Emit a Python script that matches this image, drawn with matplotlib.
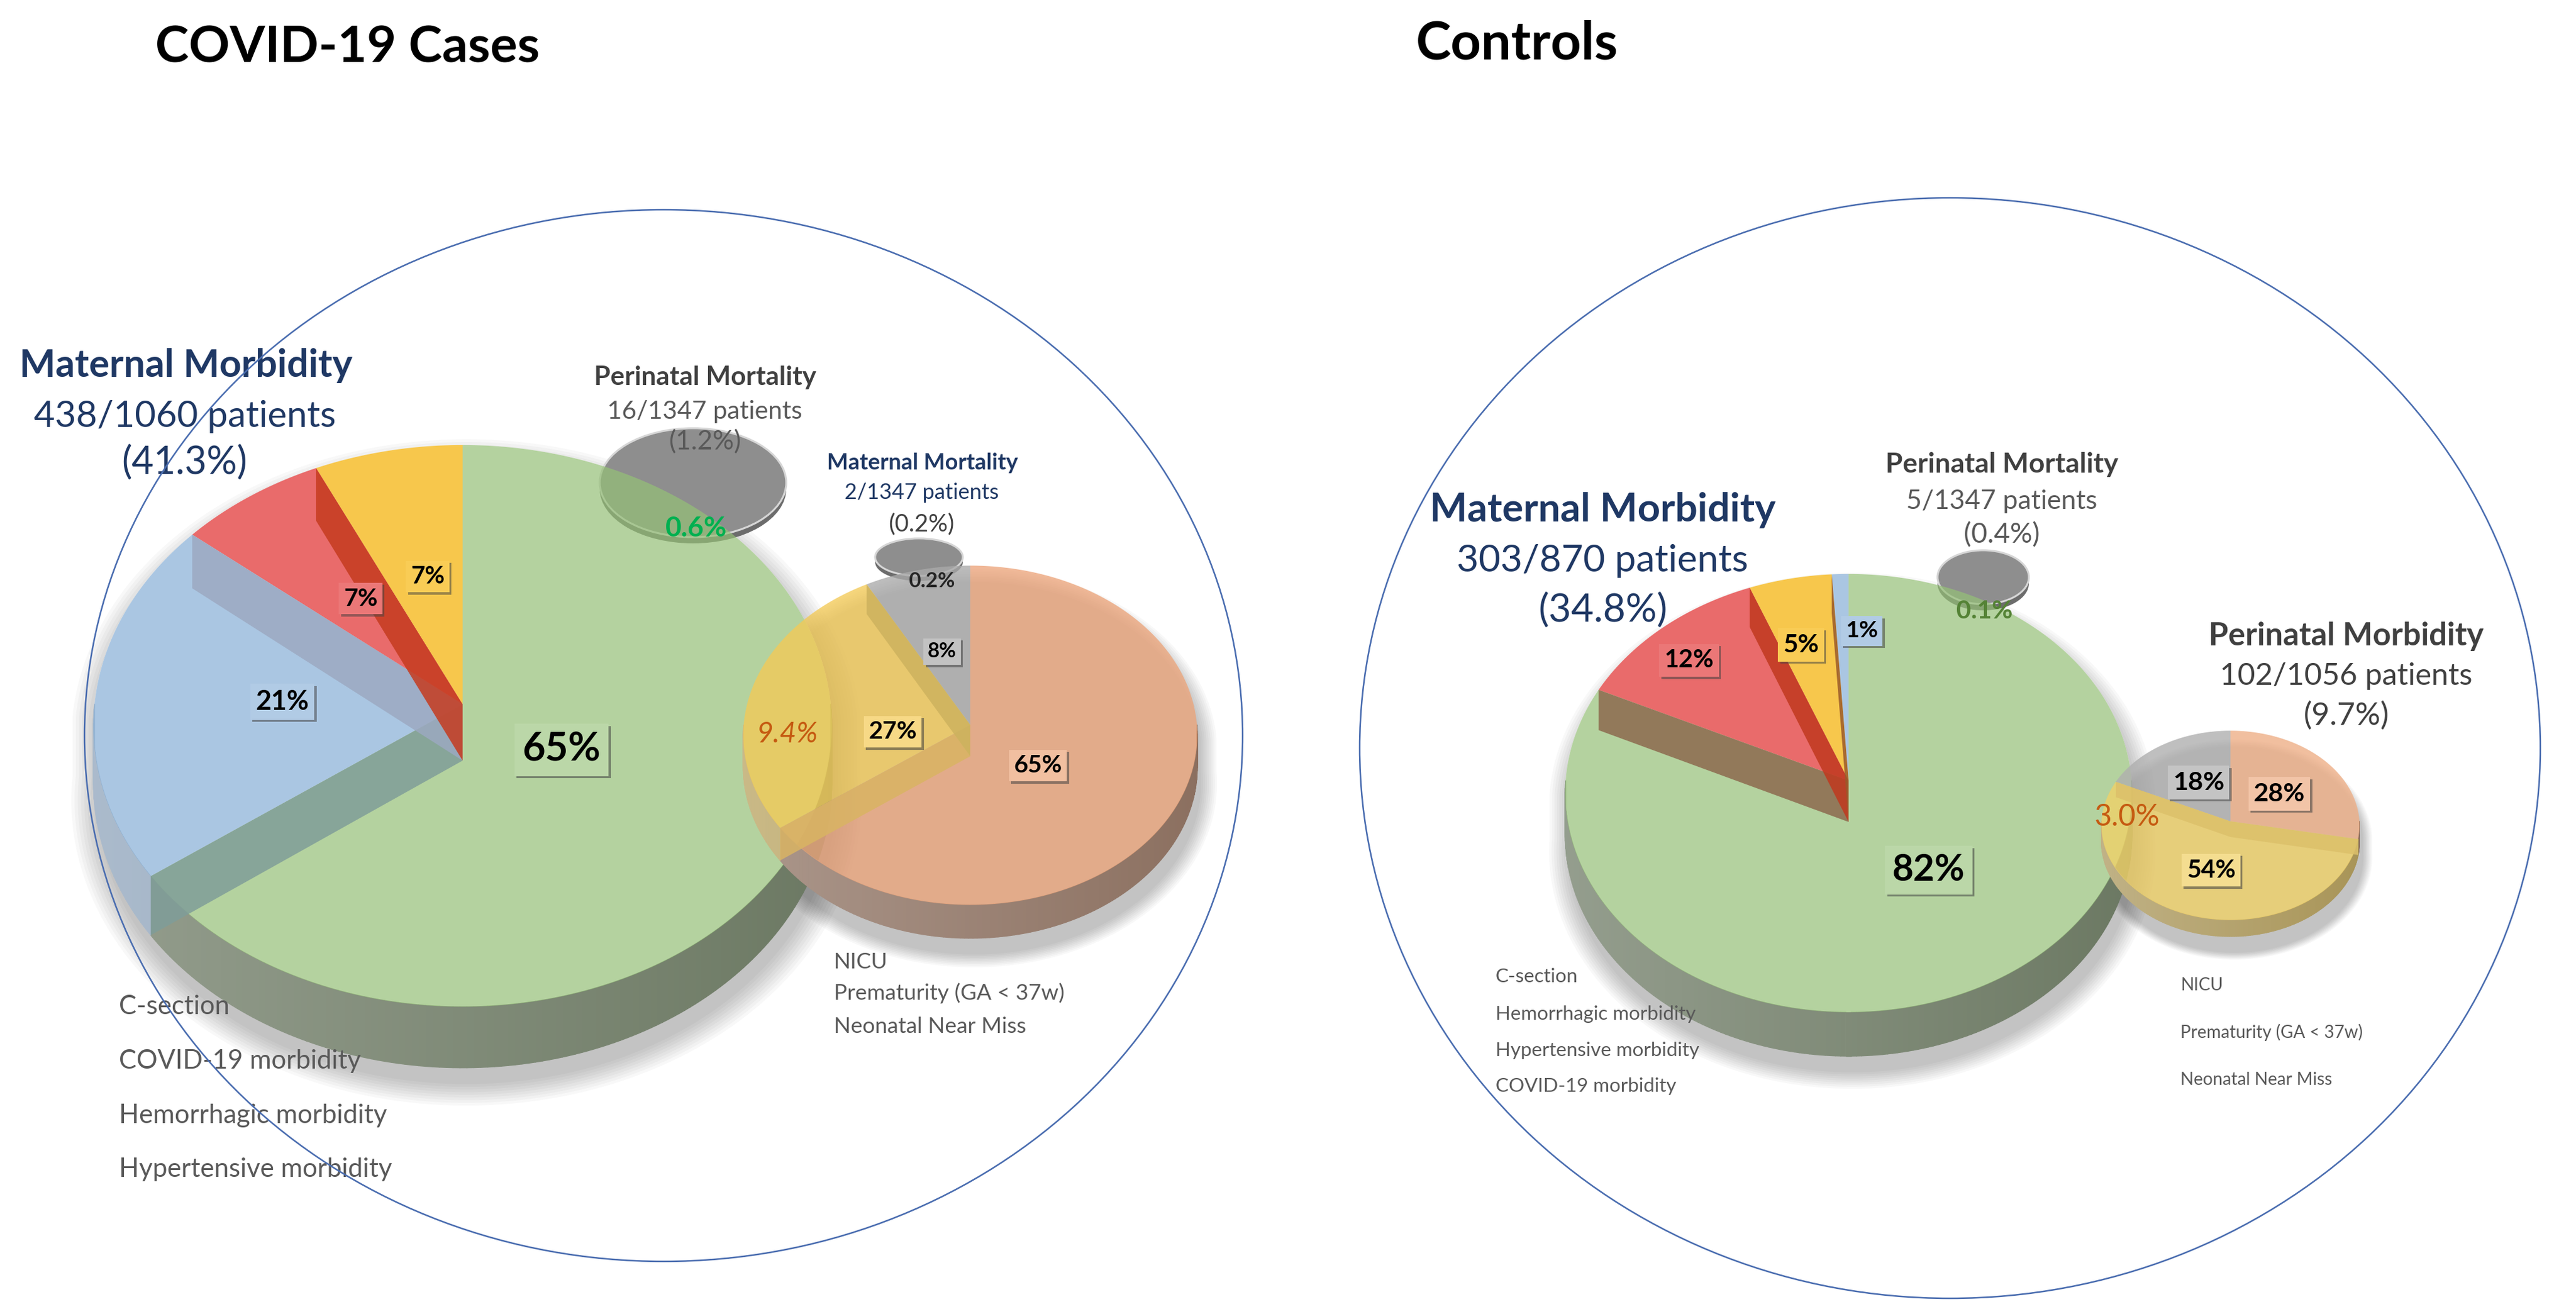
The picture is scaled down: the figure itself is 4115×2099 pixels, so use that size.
import numpy as np
import matplotlib
matplotlib.use("Agg")
import matplotlib.pyplot as plt
from matplotlib.patches import Polygon, Ellipse
from matplotlib.collections import PolyCollection
from matplotlib import patheffects as pe
from matplotlib.colors import to_rgb

plt.rcParams['font.family'] = ['Lato', 'DejaVu Sans']

# ---- data ----
case_mat_labels = ['C-section', 'COVID-19 morbidity', 'Hemorrhagic morbidity', 'Hypertensive morbidity']
case_mat_pct = [65, 21, 7, 7]
case_peri_labels = ['NICU', 'Prematurity (GA < 37w)', 'Neonatal Near Miss']
case_peri_pct = [65, 27, 8]

ctrl_mat_labels = ['C-section', 'Hemorrhagic morbidity', 'Hypertensive morbidity', 'COVID-19 morbidity']
ctrl_mat_pct = [82, 12, 5, 1]
ctrl_peri_labels = ['NICU', 'Prematurity (GA < 37w)', 'Neonatal Near Miss']
ctrl_peri_pct = [28, 54, 18]

case_mat_morb = (438, 1060, 41.3)
case_peri_mort = (16, 1347, 1.2)
case_mat_mort = (2, 1347, 0.2)
case_peri_mort_shown = 0.6
case_mat_mort_shown = 0.2
case_peri_morb_shown = 9.4

ctrl_mat_morb = (303, 870, 34.8)
ctrl_peri_mort = (5, 1347, 0.4)
ctrl_peri_morb = (102, 1056, 9.7)
ctrl_peri_mort_shown = 0.1
ctrl_peri_morb_shown = 3.0

W, H = 4115, 2099
fig = plt.figure(figsize=(W / 100, H / 100), dpi=100)
ax = fig.add_axes([0, 0, 1, 1])
ax.set_xlim(0, W)
ax.set_ylim(H, 0)
ax.axis('off')
R = fig.canvas.get_renderer()

NAVY = '#1F3864'
DGRAY = '#404040'
MGRAY = '#595959'


def under(hexc, alpha):
    c = np.array(to_rgb(hexc))
    return tuple(np.clip((c - (1 - alpha)) / alpha, 0, 1))


def proj(g, th, r=1.0, down=0.0):
    t = np.radians(th)
    u, v = r * np.cos(t), r * np.sin(t)
    s = 1.0 / (1.0 + g['k'] * v)
    return g['cx'] + g['a'] * u * s, g['cy'] - g['b'] * v * s + down * s


def arc(g, t0, t1, down=0.0):
    th = np.linspace(t0, t1, int(abs(t1 - t0)) + 2)
    x, y = proj(g, th, 1.0, down)
    return np.column_stack([x, y])


def angles(pct):
    cum = np.cumsum([0] + list(pct)) / 100.0
    return 90 - 360 * cum


def silhouette(g):
    back = arc(g, 0, 180)
    front = arc(g, 180, 360, g['d'])
    return np.vstack([back, front])


def shadow(g, dx=6, dy=26):
    sil = silhouette(g)
    c = np.array([g['cx'], g['cy'] + g['d']])
    for sc in np.linspace(1.07, 1.0, 9):
        pts = (sil - c) * sc + c + [dx, dy]
        ax.add_patch(Polygon(pts, closed=True, fc='#000000', ec='none', alpha=0.028, zorder=1))


def white_base(g):
    ax.add_patch(Polygon(silhouette(g), closed=True, fc='white', ec='none', zorder=2))


def draw_pie(g, pct, tops, sides, bands, alpha, z):
    th = angles(pct)
    # outer side, front half only, light on the left and dark on the right
    for i in range(len(pct)):
        lo, hi = max(th[i + 1], -180), min(th[i], 0)
        if hi <= lo or sides[i] is None:
            continue
        a = np.linspace(hi, lo, int(hi - lo) + 2)
        dark = np.array(to_rgb(sides[i]))
        light = dark + (1 - dark) * 0.28
        polys, cols = [], []
        for j in range(len(a) - 1):
            x0, y0 = proj(g, a[j])
            x1, y1 = proj(g, a[j + 1])
            x2, y2 = proj(g, a[j + 1], 1.0, g['d'])
            x3, y3 = proj(g, a[j], 1.0, g['d'])
            polys.append([(x0, y0), (x1, y1), (x2, y2), (x3, y3)])
            f = (np.cos(np.radians(0.5 * (a[j] + a[j + 1]))) + 1) / 2
            cols.append(tuple(light * (1 - f) + dark * f))
        ax.add_collection(PolyCollection(polys, facecolors=cols, edgecolors=cols,
                                         linewidths=1.0, zorder=z))
    # top faces, partly see-through
    for i in range(len(pct)):
        pts = np.vstack([[g['cx'], g['cy']], arc(g, th[i], th[i + 1])])
        ax.add_patch(Polygon(pts, closed=True, fc=under(tops[i], alpha), ec='none',
                             alpha=alpha, zorder=z + 1))
    # inner walls showing through the top
    for j, col in bands:
        x, y = proj(g, th[j])
        xb, yb = proj(g, th[j], 1.0, g['d'])
        pts = [(g['cx'], g['cy']), (x, y), (xb, yb), (g['cx'], g['cy'] + g['d'])]
        ax.add_patch(Polygon(pts, closed=True, fc=col, ec='none', alpha=0.85, zorder=z + 2))


def disk(cx, cy, a, b, depth):
    ax.add_patch(Ellipse((cx, cy + depth), 2 * a, 2 * b, fc='#6C6C6C', ec='none', zorder=3))
    ax.add_patch(Ellipse((cx, cy), 2 * a, 2 * b, fc='#8E8E8E', ec='#D6D6D6', lw=2.2, zorder=3))


def fit_text(x, y, s, width, ha='center', z=20, **kw):
    t = ax.text(x, y, s, ha=ha, va='center', fontsize=30, zorder=z, **kw)
    w = t.get_window_extent(renderer=R).width
    t.set_fontsize(30 * width / w)
    return t


def tag(x, y, s, width, face=None, color='black', weight='bold', style='normal'):
    t = fit_text(x, y, s, width, color=color, weight=weight, style=style, z=22)
    if face is not None:
        fc = tuple(np.array(to_rgb(face)) * 0.92 + 0.08)
        t.set_bbox(dict(boxstyle='square,pad=0.2', fc=fc, ec='none'))
        t.get_bbox_patch().set_path_effects(
            [pe.withSimplePatchShadow(offset=(2.5, -2.5), shadow_rgbFace='#444444', alpha=0.55)])
    return t


def legend(x, ys, labels, ref, width, color=MGRAY):
    t0 = fit_text(x, ys[0], ref, width, ha='left', color=color)
    fs = t0.get_fontsize()
    t0.remove()
    for y, s in zip(ys, labels):
        ax.text(x, y, s, ha='left', va='center', fontsize=fs, color=color, zorder=20)


# ---- geometry (pixels) ----
g_case = dict(cx=739, cy=1125, a=588, b=446, k=0.077, d=90)
g_case_p = dict(cx=1550, cy=1158, a=362, b=270, k=0.061, d=50)
g_ctrl = dict(cx=2953, cy=1247, a=452, b=349, k=0.057, d=66)
g_ctrl_p = dict(cx=3563, cy=1312, a=206, b=151, k=0.043, d=25)

GREEN, BLUE, RED, YEL = '#B5D3A0', '#AAC7E3', '#E96B6B', '#F8C846'
ORANGE, PYEL, GRAY = '#F0B998', '#F6D67C', '#BDBDBD'

for g in (g_case, g_case_p, g_ctrl, g_ctrl_p):
    shadow(g)
white_base(g_case)
white_base(g_ctrl)

# mortality discs sitting behind the pies
disk(1107, 771, 149, 87, 10)
disk(1468, 890, 70, 30, 8)
disk(3168, 922, 73, 43, 10)

# ---- COVID-19 cases ----
draw_pie(g_case, case_mat_pct, [GREEN, BLUE, RED, YEL],
         ['#6B7862', '#8AA0B8', None, None],
         [(1, '#7F9D99'), (2, '#9CA9C1'), (3, '#C53B1F')], 0.7, 4)
draw_pie(g_case_p, case_peri_pct, [ORANGE, PYEL, GRAY],
         ['#8B6F5F', '#B59E58', None],
         [(1, '#D9B463'), (2, '#CDB25E')], 0.78, 8)

# ---- controls ----
draw_pie(g_ctrl, ctrl_mat_pct, [GREEN, RED, YEL, BLUE],
         ['#6B7862', None, None, None],
         [(1, '#8C6A4E'), (2, '#C0391F'), (3, '#9A5A2A')], 0.7, 4)
draw_pie(g_ctrl_p, ctrl_peri_pct, ['#F1BF9F', '#F3DA86', '#BFBFBF'],
         ['#8B6F5F', '#A89457', None],
         [(1, '#DCC06A'), (2, '#DCC06A')], 0.8, 8)

# ---- slice labels ----
tag(897, 1198, f'{case_mat_pct[0]}%', 125, GREEN)
tag(451, 1121, f'{case_mat_pct[1]}%', 85, BLUE)
tag(576, 956, f'{case_mat_pct[2]}%', 54, RED)
tag(683, 921, f'{case_mat_pct[3]}%', 54, YEL)
tag(1658, 1223, f'{case_peri_pct[0]}%', 77, ORANGE)
tag(1426, 1169, f'{case_peri_pct[1]}%', 77, PYEL)
tag(1505, 1041, f'{case_peri_pct[2]}%', 46, GRAY)
tag(1488, 928, f'{case_mat_mort_shown}%', 74, color='#262626')
tag(1258, 1173, f'{case_peri_morb_shown}%', 98, color='#C55A11', weight='normal', style='italic')
tag(1112, 844, f'{case_peri_mort_shown}%', 98, color='#00B050')

tag(3081, 1390, f'{ctrl_mat_pct[0]}%', 116, GREEN)
tag(2698, 1055, f'{ctrl_mat_pct[1]}%', 79, RED)
tag(2877, 1030, f'{ctrl_mat_pct[2]}%', 57, YEL)
tag(2974, 1008, f'{ctrl_mat_pct[3]}%', 52, BLUE)
tag(3641, 1268, f'{ctrl_peri_pct[0]}%', 82, '#F1BF9F')
tag(3532, 1390, f'{ctrl_peri_pct[1]}%', 78, '#F3DA86')
tag(3512, 1250, f'{ctrl_peri_pct[2]}%', 82, '#BFBFBF')
tag(3398, 1305, f'{ctrl_peri_morb_shown:.1f}%', 105, color='#C55A11', weight='normal')
tag(3170, 977, f'{ctrl_peri_mort_shown}%', 90, color='#548235')

# ---- headings ----
fit_text(555, 77, 'COVID-19 Cases', 613, weight='bold', color='black')
fit_text(2423, 70, 'Controls', 323, weight='bold', color='black')

fit_text(297, 584, 'Maternal Morbidity', 532, weight='bold', color=NAVY)
fit_text(295, 665, f'{case_mat_morb[0]}/{case_mat_morb[1]} patients', 482, color=NAVY)
fit_text(295, 739, f'({case_mat_morb[2]}%)', 201, color=NAVY)

fit_text(1126, 603, 'Perinatal Mortality', 354, weight='bold', color=DGRAY)
fit_text(1126, 657, f'{case_peri_mort[0]}/{case_peri_mort[1]} patients', 312, color=MGRAY)
fit_text(1126, 705, f'({case_peri_mort[2]}%)', 116, color=MGRAY)

fit_text(1474, 739, 'Maternal Mortality', 305, weight='bold', color=NAVY)
fit_text(1472, 787, f'{case_mat_mort[0]}/{case_mat_mort[1]} patients', 246, color=NAVY)
fit_text(1472, 837, f'({case_mat_mort[2]}%)', 105, color=DGRAY)

fit_text(2560, 815, 'Maternal Morbidity', 552, weight='bold', color=NAVY)
fit_text(2560, 896, f'{ctrl_mat_morb[0]}/{ctrl_mat_morb[1]} patients', 466, color=NAVY)
fit_text(2560, 975, f'({ctrl_mat_morb[2]}%)', 206, color=NAVY)

fit_text(3198, 742, 'Perinatal Mortality', 371, weight='bold', color=DGRAY)
fit_text(3198, 801, f'{ctrl_peri_mort[0]}/{ctrl_peri_mort[1]} patients', 305, color=MGRAY)
fit_text(3198, 855, f'({ctrl_peri_mort[2]}%)', 121, color=MGRAY)

fit_text(3748, 1016, 'Perinatal Morbidity', 439, weight='bold', color=DGRAY)
fit_text(3748, 1080, f'{ctrl_peri_morb[0]}/{ctrl_peri_morb[1]} patients', 404, color=DGRAY)
fit_text(3748, 1143, f'({ctrl_peri_morb[2]}%)', 137, color=DGRAY)

# ---- legends ----
legend(190, [1608, 1695, 1782, 1868], case_mat_labels, 'Hypertensive morbidity', 435)
legend(1332, [1537, 1586, 1640], case_peri_labels, 'Prematurity (GA < 37w)', 368)
legend(2389, [1560, 1620, 1678, 1735], ctrl_mat_labels, 'Hypertensive morbidity', 325)
legend(3483, [1574, 1649, 1725], ctrl_peri_labels, 'Prematurity (GA < 37w)', 291)

# ---- enclosing outlines ----
ax.add_patch(Ellipse((1060, 1175), 2 * 925, 2 * 840, fill=False, ec='#4A6DB0', lw=1.8, zorder=30))
ax.add_patch(Ellipse((3115, 1195), 2 * 943, 2 * 879, fill=False, ec='#4A6DB0', lw=1.8, zorder=30))

fig.savefig('out.png', dpi=100, facecolor='white')
